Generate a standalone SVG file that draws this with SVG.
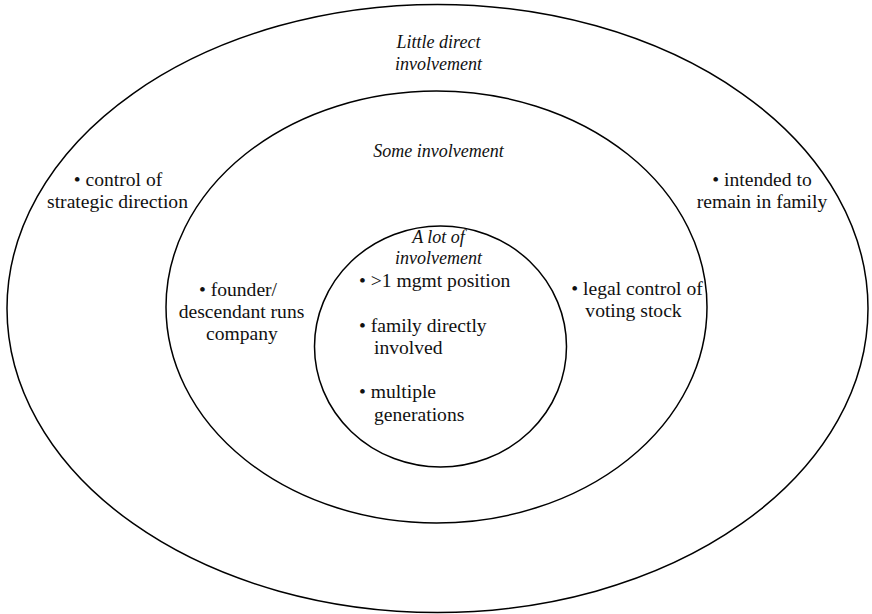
<svg xmlns="http://www.w3.org/2000/svg" width="872" height="614" viewBox="0 0 872 614">
<style>
.ring{fill:none;stroke:#000;stroke-width:1.5}
.t{font-family:'Liberation Serif','Times New Roman','DejaVu Serif',serif;font-size:19.6px;fill:#111}
.h{font-family:'Liberation Serif','Times New Roman','DejaVu Serif',serif;font-size:18px;font-style:italic;fill:#111}
.c{text-anchor:middle}
</style>
<rect width="872" height="614" fill="#fff"/>
<g id="outer">
<ellipse class="ring" cx="437.5" cy="308.5" rx="430.5" ry="304"/>
<text class="h c" x="438.5" y="48">Little direct</text>
<text class="h c" x="438.5" y="70">involvement</text>
<text class="t c" x="118" y="186">• control of</text>
<text class="t c" x="117.5" y="208">strategic direction</text>
<text class="t c" x="762" y="186">• intended to</text>
<text class="t c" x="762" y="208">remain in family</text>
</g>
<g id="middle">
<ellipse class="ring" cx="436.5" cy="307" rx="270.5" ry="216"/>
<text class="h c" x="438.5" y="157">Some involvement</text>
<text class="t c" x="238" y="296">• founder/</text>
<text class="t c" x="241.5" y="318">descendant runs</text>
<text class="t c" x="242" y="340">company</text>
<text class="t c" x="637" y="295">• legal control of</text>
<text class="t c" x="633.5" y="317">voting stock</text>
</g>
<g id="inner">
<ellipse class="ring" cx="440.5" cy="346.5" rx="126" ry="120.5"/>
<text class="h c" x="438.5" y="243">A lot of</text>
<text class="h c" x="438.5" y="264">involvement</text>
<text class="t" x="359" y="287">• &gt;1 mgmt position</text>
<text class="t" x="359" y="332">• family directly</text>
<text class="t" x="374" y="354">involved</text>
<text class="t" x="359" y="398">• multiple</text>
<text class="t" x="374" y="421">generations</text>
</g>
<g id="connectors"/>
</svg>
